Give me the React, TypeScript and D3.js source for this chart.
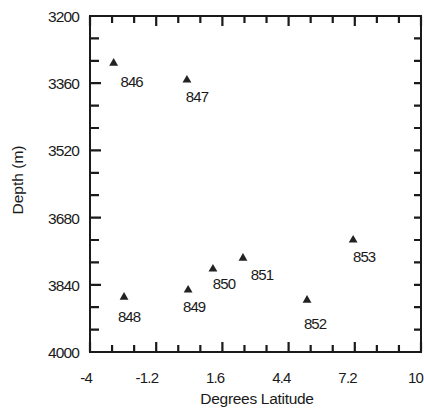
import * as d3 from 'd3';
import { useRef, useEffect } from 'react';

// ODP sites, latitude vs water depth
const sites = ['846', '847', '848', '849', '850', '851', '852', '853'];
const latitude = [-3.0, 0.1, -2.56, 0.15, 1.2, 2.47, 5.18, 7.13];
const depth = [3310, 3350, 3867, 3850, 3800, 3774, 3874, 3731];

const xTickLabels = ['-4', '-1.2', '1.6', '4.4', '7.2', '10'];
const yTickLabels = ['3200', '3360', '3520', '3680', '3840', '4000'];

// where each site number sits relative to its triangle (px)
const labelDx = [18, 10, 5, 6, 11, 19, 8, 11];
const labelDy = [25, 23, 26, 23, 21, 23, 30, 23];

export default function App() {
  const svgRef = useRef(null);

  useEffect(() => {
    const width = 424;
    const height = 415;
    const left = 90, right = 421, top = 16, bottom = 352;
    const font = '"Liberation Sans", Arial, sans-serif';
    const ink = '#1a1a1a';

    const x = d3.scaleLinear().domain([-4, 10]).range([left, right]);
    const y = d3.scaleLinear().domain([3200, 4000]).range([top, bottom]);

    const xMajor = xTickLabels.map(Number);
    const yMajor = yTickLabels.map(Number);
    // three intervals between each labelled tick
    const xTicks = d3.range(0, 16).map((i) => -4 + (i * 2.8) / 3);
    const yTicks = d3.range(0, 16).map((i) => 3200 + (i * 160) / 3);
    const near = (arr, v) => arr.some((m) => Math.abs(m - v) < 1e-6);

    const svg = d3.select(svgRef.current)
      .attr('width', width)
      .attr('height', height);
    svg.selectAll('*').remove();

    // frame
    svg.append('rect')
      .attr('x', left).attr('y', top)
      .attr('width', right - left).attr('height', bottom - top)
      .attr('fill', 'none').attr('stroke', ink).attr('stroke-width', 2);

    // inward tick marks on all four sides
    let tickPath = '';
    xTicks.forEach((v) => {
      const len = near(xMajor, v) ? 10 : 7;
      const px = x(v);
      tickPath += `M${px},${bottom}V${bottom - len}M${px},${top}V${top + len}`;
    });
    yTicks.forEach((v) => {
      const len = near(yMajor, v) ? 11 : 9;
      const py = y(v);
      tickPath += `M${left},${py}H${left + len}M${right},${py}H${right - 7}`;
    });
    svg.append('path')
      .attr('d', tickPath)
      .attr('fill', 'none')
      .attr('stroke', ink)
      .attr('stroke-width', 2.2);

    // tick labels
    svg.append('g').selectAll('text')
      .data(xTickLabels)
      .enter().append('text')
      .attr('x', (t) => x(+t) + 2)
      .attr('y', 383)
      .attr('text-anchor', 'end')
      .attr('font-family', font).attr('font-size', 15).attr('letter-spacing', -0.8)
      .attr('fill', ink)
      .text((t) => t);

    svg.append('g').selectAll('text')
      .data(yTickLabels)
      .enter().append('text')
      .attr('x', left - 11)
      .attr('y', (t) => y(+t) + 6)
      .attr('text-anchor', 'end')
      .attr('font-family', font).attr('font-size', 15.5).attr('letter-spacing', -0.9)
      .attr('fill', ink)
      .text((t) => t);

    // axis titles
    svg.append('text')
      .attr('x', 257).attr('y', 404)
      .attr('text-anchor', 'middle')
      .attr('font-family', font).attr('font-size', 15.5).attr('letter-spacing', -0.3)
      .attr('fill', ink)
      .text('Degrees Latitude');

    svg.append('text')
      .attr('transform', 'translate(23, 180) rotate(-90)')
      .attr('text-anchor', 'middle')
      .attr('font-family', font).attr('font-size', 15.5)
      .attr('fill', ink)
      .text('Depth (m)');

    // site markers
    const tri = d3.symbol().type(d3.symbolTriangle).size(34);
    const pts = sites.map((s, i) => ({ s, lat: latitude[i], dep: depth[i], i }));

    svg.append('g').selectAll('path')
      .data(pts)
      .enter().append('path')
      .attr('d', tri)
      .attr('transform', (p) => `translate(${x(p.lat)}, ${y(p.dep) + 1})`)
      .attr('fill', '#222');

    svg.append('g').selectAll('text')
      .data(pts)
      .enter().append('text')
      .attr('x', (p) => x(p.lat) + labelDx[p.i])
      .attr('y', (p) => y(p.dep) + labelDy[p.i])
      .attr('text-anchor', 'middle')
      .attr('font-family', font).attr('font-size', 15).attr('letter-spacing', -0.9)
      .attr('fill', ink)
      .text((p) => p.s);
  }, []);

  return (
    <svg ref={svgRef} style={{ position: 'absolute', left: 0, top: 0, background: '#fff' }}></svg>
  );
}
